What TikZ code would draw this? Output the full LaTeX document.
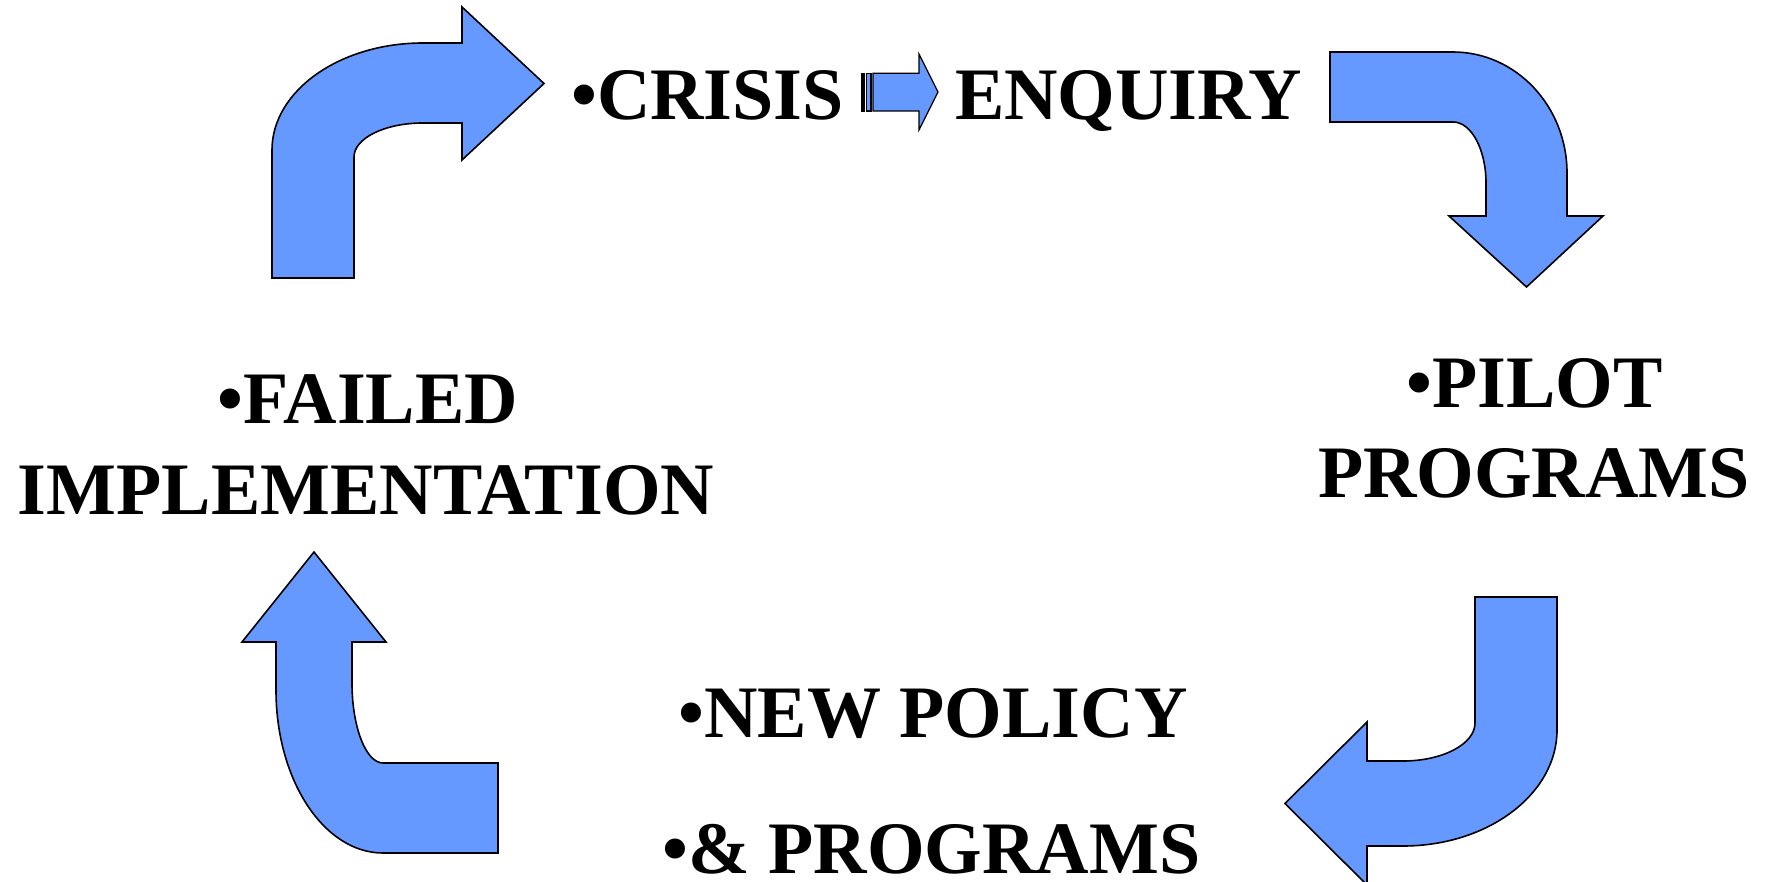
\documentclass[tikz,border=0pt]{standalone}
\usepackage{fontspec}
\setmainfont{Liberation Serif}
\definecolor{arrowblue}{RGB}{102,153,255}
\tikzset{
  blockarrow/.style={fill=arrowblue, draw=black, line width=1.6pt, line join=miter},
  label/.style={inner sep=0pt, font=\fontsize{74}{88}\selectfont\bfseries, anchor=base}
}
\begin{document}
\begin{tikzpicture}[x=1pt,y=-1pt]
\clip (0,0) rectangle (1767,882);
\fill[white] (0,0) rectangle (1767,882);

% top-left arrow (up then right)
\draw[blockarrow] (272,278) -- (272,150)
  .. controls (272,91) and (339.6,43) .. (423,43) -- (462,43) -- (462,7)
  -- (544,83.5) -- (462,160) -- (462,123) -- (423,123)
  .. controls (384.9,123) and (354,138.2) .. (354,157) -- (354,278) -- cycle;

% top-right arrow (right then down)
\draw[blockarrow] (1330,52) -- (1453,52)
  .. controls (1515.9,52) and (1567,106.2) .. (1567,173) -- (1567,216) -- (1603,216)
  -- (1526.5,287) -- (1449,216) -- (1486,216) -- (1486,183)
  .. controls (1486,149.3) and (1471.2,122) .. (1453,122) -- (1330,122) -- cycle;

% bottom-right arrow (down then left)
\draw[blockarrow] (1475,597) -- (1557,597) -- (1557,730)
  .. controls (1557,794) and (1488,846) .. (1403,846) -- (1367,846) -- (1367,885)
  -- (1285,803.5) -- (1367,722) -- (1367,761) -- (1403,761)
  .. controls (1442.7,761) and (1475,744) .. (1475,723) -- cycle;

% bottom-left arrow (left then up)
\draw[blockarrow] (314,552) -- (386,642) -- (352,642) -- (352,683)
  .. controls (352,727) and (365.9,763) .. (383,763) -- (498,763) -- (498,853) -- (383,853)
  .. controls (323.9,853) and (276,780) .. (276,690) -- (276,642) -- (242,642) -- cycle;

% small striped arrow between CRISIS and ENQUIRY
\draw[blockarrow, line width=1.2pt] (862,73.3) rectangle (864,111);
\draw[blockarrow, line width=1.2pt] (866.5,73.3) rectangle (871,111);
\draw[blockarrow, line width=1.2pt] (873,73.3) -- (919,73.3) -- (919,54) -- (938,92)
  -- (919,130) -- (919,111) -- (873,111) -- cycle;

% texts
\node[label, anchor=base west] (crisis) at (571,119.5) {•CRISIS};
\node[label, anchor=base west] (enquiry) at (955,119.5) {ENQUIRY};
\node[label] (failed) at (368,423.7) {•FAILED};
\node[label] (implementation) at (366,514) {IMPLEMENTATION};
\node[label] (pilot) at (1534.5,408) {•PILOT};
\node[label] (programs) at (1534,497) {PROGRAMS};
\node[label] (newpolicy) at (933,737) {•NEW POLICY};
\node[label] (andprograms) at (931.5,873) {•\& PROGRAMS};
\end{tikzpicture}
\end{document}
